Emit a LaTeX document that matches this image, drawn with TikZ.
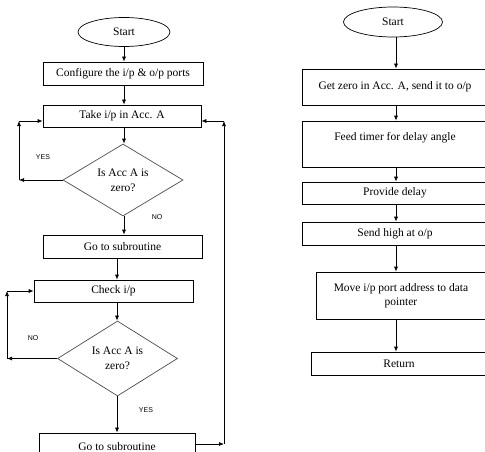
\documentclass[tikz,border=0pt]{standalone}
\usepackage{fontspec}
\setmainfont{Liberation Serif}
\newfontfamily\lblfont{Liberation Sans}
\usetikzlibrary{shapes.geometric,arrows.meta}
\begin{document}
\begin{tikzpicture}[x=1pt,y=-1pt,
  every node/.style={font=\fontsize{11.5}{14}\selectfont},
  stepbox/.style={draw=black,line width=0.7pt,rectangle,inner sep=1pt,align=center},
  term/.style={draw=black,line width=0.7pt,ellipse,inner sep=0pt},
  decide/.style={draw=black!70,line width=0.7pt,diamond,aspect=1.67,inner sep=0pt,align=center,
    font=\fontsize{11.5}{15}\selectfont},
  arr/.style={line width=0.7pt,-{Latex[length=5pt,width=4pt]}},
  ln/.style={line width=0.7pt},
  lbl/.style={font=\lblfont\fontsize{7}{8}\selectfont}]
\useasboundingbox (0,0) rectangle (485,452);
\clip (0,0) rectangle (485,452);
% left column
\node[term,minimum width=92,minimum height=29] (start) at (124,32) {Start};
\node[stepbox,minimum width=160,minimum height=23] (conf) at (123,73.5) {Configure the i/p \& o/p ports};
\node[stepbox,minimum width=158,minimum height=22] (take) at (122,116) {Take i/p in Acc. A};
\node[decide,minimum width=120,minimum height=72] (d1) at (123,180) {Is Acc A is\\zero?};
\node[stepbox,minimum width=159,minimum height=23] (gosub1) at (122.5,246.5) {Go to subroutine};
\node[stepbox,minimum width=159,minimum height=22] (check) at (113.5,291) {Check i/p};
\node[decide,minimum width=120,minimum height=75] (d2) at (117.5,358.5) {Is Acc A is\\zero?};
\node[stepbox,minimum width=156,minimum height=27] (gosub2) at (117,446.5) {Go to subroutine};
\coordinate (lc1) at (124,0);
\coordinate (lc2) at (117,0);
\draw[arr] (lc1 |- start.south) -- (lc1 |- conf.north);
\draw[arr] (lc1 |- conf.south) -- (lc1 |- take.north);
\draw[arr] (lc1 |- take.south) -- (lc1 |- d1.north);
\draw[arr] (lc1 |- d1.south) -- (lc1 |- gosub1.north);
\draw[arr] (lc2 |- gosub1.south) -- (lc2 |- check.north);
\draw[arr] (lc2 |- check.south) -- (lc2 |- d2.north);
\draw[arr] (lc2 |- d2.south) -- (lc2 |- gosub2.north);
% YES loop
\coordinate (tw) at ([yshift=-5pt]take.west);
\coordinate (te) at ([yshift=-5pt]take.east);
\coordinate (yl) at (19,0);
\draw[arr] (d1.west) -- (yl |- d1.west);
\draw[arr] (yl |- d1.west) -- (yl |- tw);
\draw[arr] (yl |- tw) -- (tw);
% NO loop
\coordinate (nl) at (7,0);
\draw[arr] (d2.west) -- (nl |- d2.west);
\draw[arr] (nl |- d2.west) -- (nl |- check.west);
\draw[arr] (nl |- check.west) -- (check.west);
% return line
\coordinate (rr) at (224,0);
\coordinate (ge) at ([yshift=2.5pt]gosub2.east);
\draw[arr] (ge) -- (rr |- ge);
\draw[arr] (rr |- ge) -- (rr |- te);
\draw[arr] (rr |- te) -- (te);
% labels
\node[lbl] (yes1) at (43,157) {YES};
\node[lbl] (no1) at (157,217) {NO};
\node[lbl] (no2) at (33,338) {NO};
\node[lbl] (yes2) at (146,410) {YES};
% right column
\node[term,minimum width=99,minimum height=30] (start2) at (393,22) {Start};
\node[stepbox,minimum width=186,minimum height=36] (b1) at (395,87) {Get zero in Acc. A, send it to o/p};
\node[stepbox,minimum width=186,minimum height=46] (b2) at (395,144) {Feed timer for delay angle\\[2pt]\mbox{}};
\node[stepbox,minimum width=186,minimum height=22] (b3) at (395,193) {Provide delay};
\node[stepbox,minimum width=186,minimum height=23] (b4) at (395,233.5) {Send high at o/p};
\node[stepbox,minimum width=170,minimum height=47] (b5) at (401,295.5) {Move i/p port address to data\\pointer};
\node[stepbox,minimum width=176,minimum height=23] (b6) at (399,363.5) {Return};
\coordinate (rc) at (396,0);
\draw[arr] (rc |- start2.south) -- (rc |- b1.north);
\draw[arr] (rc |- b1.south) -- (rc |- b2.north);
\draw[arr] (rc |- b2.south) -- (rc |- b3.north);
\draw[arr] (rc |- b3.south) -- (rc |- b4.north);
\draw[arr] (rc |- b4.south) -- (rc |- b5.north);
\draw[arr] (rc |- b5.south) -- (rc |- b6.north);
\end{tikzpicture}
\end{document}
